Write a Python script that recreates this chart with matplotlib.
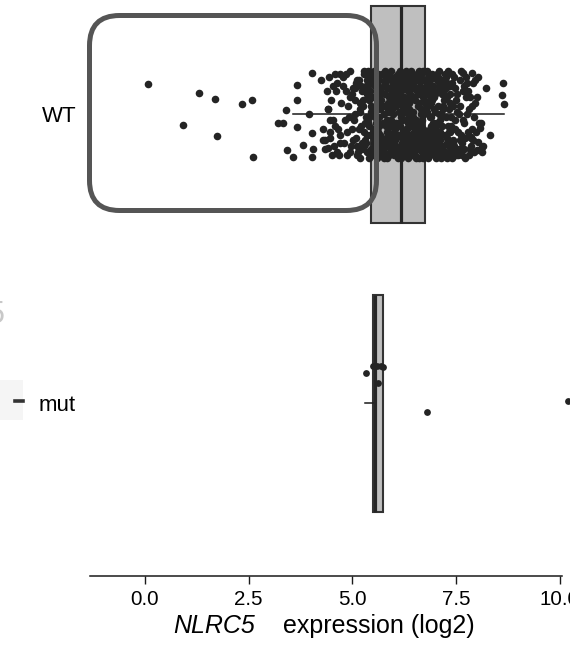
import matplotlib
matplotlib.use("Agg")
import matplotlib.pyplot as plt
from matplotlib.patches import FancyBboxPatch, Rectangle
from matplotlib.lines import Line2D
from matplotlib.ticker import FixedLocator, FormatStrFormatter

plt.rcParams['font.family'] = ['Liberation Sans', 'DejaVu Sans']

# ---------------- data ----------------
categories = ["WT", "mut"]

# box statistics (log2 expression)
wt_q1, wt_med, wt_q3 = 5.45, 6.17, 6.75
wt_whislo, wt_whishi = 3.57, 8.65
mut_q1, mut_med, mut_q3 = 5.49, 5.55, 5.73
mut_whislo, mut_whishi = 5.30, 5.73

# WT individual samples: (expression, jitter offset)
wt_points = [
    (5.62,-0.12),(6.41,0.08),(7.05,-0.03),(5.88,0.14),(6.93,0.11),(4.95,-0.06),(6.15,-0.15),(7.48,0.02),(5.31,0.09),(6.67,-0.09),
    (6.02,0.05),(5.47,-0.14),(7.22,0.13),(6.36,-0.04),(4.71,0.10),(6.84,-0.13),(5.95,-0.02),(7.67,-0.08),(5.18,0.15),(6.53,0.12),
    (6.27,-0.11),(7.35,0.06),(5.74,0.03),(4.52,-0.10),(6.98,-0.01),(5.59,0.12),(6.71,0.15),(7.91,0.09),(6.09,-0.07),(5.26,-0.03),
    (6.46,0.01),(5.83,-0.09),(7.13,-0.12),(4.86,0.06),(6.61,-0.15),(7.55,0.14),(5.41,0.04),(6.19,0.10),(7.76,-0.11),(5.69,-0.05),
    (6.88,0.07),(6.04,0.14),(5.12,-0.12),(7.29,-0.06),(6.33,-0.13),(5.52,0.08),(8.05,0.03),(6.76,-0.04),(4.41,-0.02),(5.97,0.11),
    (6.58,-0.07),(7.41,-0.14),(5.36,0.13),(6.12,0.03),(7.02,0.15),(4.78,-0.13),(5.79,-0.11),(6.95,-0.08),(7.84,0.12),(6.24,0.06),
    (5.65,0.01),(6.39,-0.10),(7.17,0.04),(5.03,0.02),(6.81,0.09),(5.92,-0.15),(7.61,0.07),(6.51,0.14),(5.22,-0.08),(7.96,-0.04),
    (6.07,-0.12),(5.49,0.06),(6.73,0.00),(7.33,0.11),(4.63,0.13),(6.29,0.12),(5.85,0.09),(7.09,-0.10),(6.64,-0.02),(8.21,-0.09),
    (5.58,-0.04),(6.97,0.13),(6.16,-0.08),(7.52,-0.01),(5.28,-0.15),(6.43,0.04),(7.71,0.15),(5.76,0.15),(6.86,-0.12),(4.97,0.11),
    (6.31,0.08),(7.26,-0.09),(5.44,-0.01),(6.05,-0.03),(7.88,0.05),(5.91,0.04),(6.69,0.06),(4.84,-0.08),(7.44,-0.13),(6.22,-0.14),
    (5.71,0.10),(6.49,-0.06),(7.12,0.09),(5.15,0.05),(6.91,-0.05),(5.99,0.13),(7.58,-0.12),(6.35,0.15),(5.33,0.01),(8.12,0.13),
    (6.63,0.03),(5.87,-0.13),(7.38,0.01),(4.58,0.04),(6.11,-0.11),(7.04,-0.14),(5.54,-0.10),(6.78,0.11),(7.81,-0.02),(6.26,-0.01),
    (5.67,0.07),(6.45,0.14),(7.21,-0.07),(5.08,-0.11),(6.56,-0.08),(5.94,0.02),(7.65,0.10),(6.01,-0.09),(4.91,0.01),(6.89,0.04),
    (6.18,0.12),(7.47,0.05),(5.39,-0.05),(6.74,-0.12),(5.81,0.11),(7.15,0.14),(6.37,-0.02),(8.31,0.07),(5.61,-0.14),(6.99,0.07),
    (6.08,-0.05),(5.23,0.12),(7.31,-0.15),(6.54,-0.13),(5.78,-0.07),(6.83,0.13),(7.73,-0.06),(4.69,-0.14),(6.28,0.02),(5.46,0.14),
    (6.94,-0.10),(6.13,0.07),(7.56,0.12),(5.57,0.03),(6.42,-0.11),(7.07,0.08),(5.02,0.09),(6.66,0.10),(7.93,0.01),(5.89,-0.06),
    (6.34,-0.08),(7.19,-0.02),(5.72,0.12),(6.79,-0.15),(4.88,0.14),(6.03,0.09),(7.42,0.09),(5.35,-0.07),(6.59,0.05),(8.02,-0.13),
    (6.21,0.14),(5.51,0.05),(7.01,0.03),(6.47,-0.14),(5.96,-0.10),(7.64,0.14),(6.87,0.01),(5.19,-0.02),(7.28,0.10),(4.47,0.08),
    (6.71,-0.06),(5.84,0.02),(6.38,0.11),(7.11,-0.11),(5.63,-0.12),(6.96,0.12),(7.49,-0.05),(6.14,-0.13),(5.29,0.11),(7.86,0.11),
    (6.52,0.09),(5.93,-0.04),(7.24,0.07),(6.25,-0.06),(5.42,-0.13),(6.82,-0.03),(7.69,0.03),(5.06,-0.05),(6.44,0.13),(7.36,-0.10),
    (6.06,0.11),(6.62,-0.10),(5.53,0.10),(7.14,0.00),(6.32,0.05),(5.86,0.06),(6.92,-0.14),(6.17,0.01),(7.37,0.12),(5.68,-0.09),
    (6.48,-0.12),(5.77,0.13),(7.06,-0.08),(6.23,0.12),(6.85,0.08),(5.43,0.07),(6.57,-0.03),(7.25,-0.13),(5.98,0.00),(6.72,0.13),
    (5.64,0.04),(6.40,0.02),(7.18,0.11),(6.00,-0.12),(6.77,-0.07),(5.34,-0.09),(6.55,0.08),(7.32,0.06),(5.90,0.10),(6.30,-0.15),
    (6.97,-0.06),(5.58,0.15),(6.20,-0.04),(7.08,0.13),(6.44,-0.09),(5.82,-0.14),(6.68,0.02),(7.43,-0.03),(6.10,0.15),(5.48,-0.02),
    (6.36,0.10),(7.00,0.05),(5.73,-0.03),(6.60,0.12),(6.04,-0.10),(7.20,-0.05),(5.97,0.08),(6.82,0.15),(5.37,0.03),(6.50,-0.05),
    (6.12,0.04),(6.88,-0.09),(5.66,-0.08),(7.27,0.08),(6.41,0.14),(5.88,-0.01),(6.70,-0.12),(7.10,0.02),(6.27,0.07),(5.55,0.09),
    (6.75,0.06),(6.02,-0.13),(7.39,0.15),(5.80,0.08),(6.33,0.00),(6.95,0.10),(5.45,-0.11),(6.63,-0.07),(7.16,-0.09),(6.08,0.13),
    (5.93,0.12),(6.53,0.03),(7.03,-0.12),(6.18,-0.10),(5.60,0.02),(6.86,0.05),(7.30,0.04),(6.39,-0.07),(5.76,-0.10),(6.98,0.14),
    (6.24,0.11),(6.66,-0.14),(5.70,0.14),(7.12,0.06),(6.46,0.07),(5.95,-0.08),(6.80,-0.01),(7.34,-0.07),(6.14,0.04),(5.50,-0.06),
    (6.58,0.10),(6.01,0.06),(7.22,-0.11),(5.84,-0.12),(6.35,-0.12),(6.90,-0.04),(5.62,0.06),(7.05,0.10),(6.29,-0.03),(6.73,0.08),
    (4.62,-0.11),(5.14,0.13),(4.81,0.02),(5.27,-0.14),(4.73,-0.04),(5.09,0.08),(4.56,0.11),(5.38,-0.06),(4.93,-0.15),(5.21,0.04),
    (4.67,0.14),(5.05,-0.09),(4.44,-0.13),(5.32,0.10),(4.99,0.05),(4.77,-0.10),(5.17,-0.01),(4.35,0.09),(5.44,0.12),(4.89,-0.03),
    (7.45,0.11),(7.62,-0.15),(7.18,-0.03),(7.79,0.06),(7.53,-0.07),(7.27,0.15),(7.70,0.12),(7.08,-0.15),(7.57,0.00),(7.40,-0.11),
    (7.33,-0.02),(7.74,-0.13),(7.14,0.07),(7.60,0.09),(7.21,-0.12),(7.50,0.14),(7.02,0.04),(7.83,-0.06),(7.36,0.13),(7.66,0.02),
    (5.52,-0.15),(5.75,0.00),(5.35,0.07),(5.90,-0.13),(5.60,0.11),(5.42,-0.08),(5.83,0.15),(5.67,-0.02),(5.48,0.13),(5.98,-0.11),
    (6.10,-0.14),(6.22,0.09),(6.45,-0.01),(6.30,0.13),(6.60,-0.04),(6.38,0.07),(6.15,-0.06),(6.52,0.15),(6.05,0.08),(6.42,-0.15),
    (6.65,0.04),(6.80,-0.11),(6.92,0.08),(6.72,-0.05),(6.99,0.12),(6.85,-0.14),(6.68,0.13),(6.90,0.01),(6.77,0.10),(6.95,-0.10),
    (5.58,0.05),(5.78,-0.12),(5.40,0.15),(5.95,0.07),(5.25,-0.05),(5.70,0.09),(5.85,-0.04),(5.50,-0.12),(5.65,0.12),(5.30,0.03),
    (6.20,0.02),(6.35,-0.05),(6.50,0.10),(6.08,0.12),(6.28,-0.09),(6.48,0.06),(6.12,-0.01),(6.40,-0.13),(6.55,-0.09),(6.03,-0.05),
    (7.00,-0.07),(7.10,0.12),(7.25,0.01),(7.05,-0.13),(7.19,-0.10),(7.30,0.09),(7.13,0.15),(7.35,-0.04),(7.08,0.06),(7.22,0.13),
    (4.70,0.07),(4.85,-0.14),(4.52,0.02),(5.00,-0.07),(4.95,0.13),(4.60,-0.08),(5.10,0.11),(4.79,0.10),(5.20,-0.10),(4.48,-0.05),
    (5.55,0.01),(5.80,0.04),(5.45,-0.03),(6.00,0.14),(5.62,-0.10),(5.88,0.11),(5.72,-0.14),(5.35,-0.12),(5.92,-0.07),(5.68,0.14),
    (6.62,0.11),(6.75,-0.02),(6.58,-0.12),(6.88,0.14),(6.70,0.05),(6.83,-0.07),(6.97,-0.02),(6.64,0.00),(6.79,0.13),(6.93,0.03),
    (7.47,-0.09),(7.55,0.06),(7.38,0.04),(7.68,-0.10),(7.43,0.10),(7.72,0.08),(7.28,-0.11),(7.59,-0.03),(7.80,0.14),(7.52,0.13),
    (6.18,0.15),(6.33,0.03),(6.25,-0.12),(6.44,0.11),(6.07,-0.09),(6.37,-0.08),(6.15,0.07),(6.53,0.02),(6.27,0.10),(6.46,-0.11),
    (5.15,-0.12),(5.28,0.06),(5.06,0.00),(5.33,-0.10),(5.12,0.14),(5.40,0.01),(5.02,-0.09),(5.23,0.10),(5.37,-0.15),(5.18,-0.04),
    (6.87,-0.05),(7.03,0.09),(6.96,-0.13),(7.16,-0.07),(6.84,0.11),(7.09,0.00),(6.91,0.06),(7.24,-0.14),(7.01,0.14),(6.78,-0.09),
    (5.73,0.10),(5.96,-0.06),(5.83,0.06),(6.04,0.03),(5.64,-0.06),(5.90,0.13),(5.79,-0.15),(6.02,-0.12),(5.86,-0.02),(5.58,0.12),
    (6.57,0.07),(6.32,0.14),(6.66,-0.08),(6.41,0.01),(6.73,0.12),(6.23,-0.03),(6.49,0.12),(6.69,-0.15),(6.29,0.05),(6.61,0.15),
    (4.30,0.05),(4.39,-0.08),(4.25,-0.12),(4.50,0.14),(4.33,0.12),(4.58,-0.14),(4.45,0.02),(4.28,0.09),(4.65,0.05),(4.42,-0.02),
    (7.85,0.08),(7.95,-0.12),(7.75,0.00),(8.10,0.03),(7.92,0.13),(8.00,-0.06),(7.78,-0.08),(8.15,0.11),(7.98,0.06),(7.89,-0.03),
    # sparse tails
    (4.02,-0.144),(3.66,-0.102),(3.66,-0.050),(3.40,-0.016),(3.95,0.000),(3.20,0.029),(3.33,0.030),(3.66,0.043),
    (4.02,0.064),(3.42,0.123),(3.57,0.147),(3.81,0.106),(4.02,0.147),(4.05,0.119),(4.41,0.116),(4.46,0.061),
    (8.63,-0.109),(8.60,-0.067),(8.65,-0.036),(7.90,-0.109),(8.02,0.095),(8.12,0.112),(8.00,0.123),(7.86,0.078),
    (8.07,0.047),(7.66,-0.144),(7.88,-0.144),
    # low outliers
    (0.07,-0.106),(1.30,-0.074),(1.69,-0.054),(2.34,-0.036),(2.58,-0.050),(0.92,0.036),(1.73,0.074),(2.60,0.147),
]

# mut individual samples: (expression, jitter offset)
mut_points = [(5.33,-0.106),(5.50,-0.13),(5.60,-0.13),(5.68,-0.13),(5.74,-0.125),(5.62,-0.07),(6.80,0.03),(10.2,-0.01)]

xticks = [0.0, 2.5, 5.0, 7.5, 10.0]
xlabel_gene = "NLRC5"
xlabel_rest = "expression (log2)"

# ---------------- figure ----------------
W, H, DPI = 570, 647, 100
fig = plt.figure(figsize=(W / DPI, H / DPI), dpi=DPI)
ax_left, ax_right, ax_bottom_px = 90, 562, 576
ax = fig.add_axes([ax_left / W, 1 - ax_bottom_px / H, (ax_right - ax_left) / W, ax_bottom_px / H])

box_face = "#bfbfbf"
edge = "#333333"
stats = [
    dict(q1=wt_q1, med=wt_med, q3=wt_q3, whislo=wt_whislo, whishi=wt_whishi, fliers=[], label=categories[0]),
    dict(q1=mut_q1, med=mut_med, q3=mut_q3, whislo=mut_whislo, whishi=mut_whishi, fliers=[], label=categories[1]),
]
ax.bxp(stats, positions=[0, 1], widths=0.75, orientation='horizontal', patch_artist=True,
       showcaps=False, showfliers=False,
       boxprops=dict(facecolor=box_face, edgecolor=edge, linewidth=1.5),
       medianprops=dict(color="#262626", linewidth=2.3),
       whiskerprops=dict(color="#1a1a1a", linewidth=1.1),
       zorder=2)

wx = [p[0] for p in wt_points]
wy = [0 + p[1] for p in wt_points]
ax.scatter(wx, wy, s=30, color="#242424", linewidths=0, zorder=3)
mx = [p[0] for p in mut_points]
my = [1 + p[1] for p in mut_points]
ax.scatter(mx, my, s=24, color="#242424", linewidths=0, zorder=3, clip_on=False)

ax.set_xlim(-1.325, 10.05)
ax.set_ylim(1.597, -0.396)
ax.set_yticks([0, 1])
ax.set_yticklabels(categories, fontsize=16)
ax.tick_params(axis='y', length=0, pad=10)
ax.xaxis.set_major_locator(FixedLocator(xticks))
ax.xaxis.set_major_formatter(FormatStrFormatter('%.1f'))
ax.tick_params(axis='x', length=6, width=1, labelsize=14.8, pad=4, color='#1a1a1a')
for s in ['left', 'right', 'top']:
    ax.spines[s].set_visible(False)
ax.spines['bottom'].set_linewidth(1.1)
ax.spines['bottom'].set_color('#1a1a1a')

# x-axis title: italic gene name followed by plain text
fig.text(173 / W, 1 - 633 / H, xlabel_gene, ha='left', va='baseline', fontsize=18, style='italic')
fig.text(475 / W, 1 - 633 / H, xlabel_rest, ha='right', va='baseline', fontsize=18)

# rounded annotation frame around the low-expression WT samples (pixel units)
frame = FancyBboxPatch((89.5 / DPI, (H - 210.5) / DPI), (376.5 - 89.5) / DPI, (210.5 - 15.5) / DPI,
                       boxstyle="round,pad=0,rounding_size=0.3", transform=fig.dpi_scale_trans,
                       facecolor='none', edgecolor='#555555', linewidth=3.6, zorder=10)
fig.add_artist(frame)

# remnants of a neighbouring panel at the left edge
fig.add_artist(Rectangle((0, (H - 420) / H), 23 / W, 40 / H, transform=fig.transFigure,
                         facecolor='#f5f5f5', edgecolor='none', zorder=0))
fig.add_artist(Line2D([15 / W, 23 / W], [1 - 401 / H, 1 - 401 / H], transform=fig.transFigure,
                      color='#333333', linewidth=2.6))
fig.text(5 / W, 1 - 315 / H, "5", ha='right', va='center', fontsize=22, color='#c8c8c8')

fig.savefig("out.png", dpi=DPI)
